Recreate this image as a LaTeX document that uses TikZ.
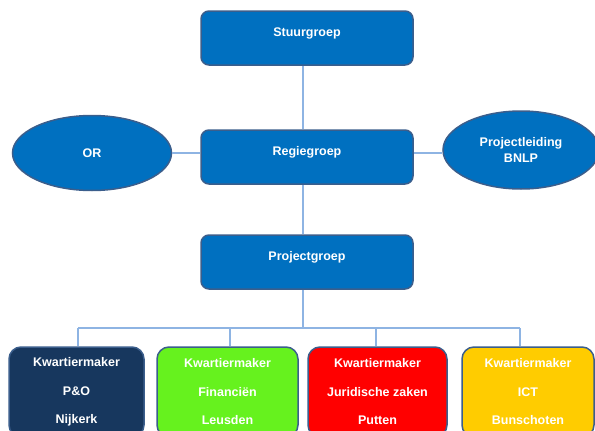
\documentclass[tikz,border=0pt]{standalone}
\usepackage{fontspec}
\setmainfont{Liberation Sans}
\usetikzlibrary{shapes.geometric}

\definecolor{boxBlue}{HTML}{0070C0}
\definecolor{boxBorder}{HTML}{3B5E8C}
\definecolor{lineBlue}{HTML}{8EB4E3}
\definecolor{navyFill}{HTML}{17375E}
\definecolor{greenFill}{HTML}{66F21E}
\definecolor{redFill}{HTML}{FF0000}
\definecolor{yellowFill}{HTML}{FFCC00}

\begin{document}
\begin{tikzpicture}
[x=1pt,y=-1pt,
  boxDecorate/.style={shape=rectangle,rounded corners=8pt,draw=boxBorder,line width=1.5pt,%
    fill=boxBlue,text=white,font=\bfseries\fontsize{12.5}{15}\selectfont,%
    minimum width=212pt,minimum height=54pt,text height=9pt,text depth=12pt},%
  ovalDecorate/.style={shape=ellipse,draw=boxBorder,line width=1.5pt,fill=boxBlue,%
    text=white,font=\bfseries\fontsize{12.5}{16.5}\selectfont,align=center,inner sep=0pt},%
  kwartDecorate/.style={shape=rectangle,rounded corners=12pt,draw=boxBorder,line width=1.5pt,%
    text=white,font=\bfseries\fontsize{12.5}{28.5}\selectfont,align=center,minimum height=90pt},%
  lineDecorate/.style={-,draw=lineBlue,line width=1.2pt}]
\useasboundingbox (0,0) rectangle (595,431);
%% top boxes
\foreach \nodename/\y/\txt in {stuur/38/Stuurgroep, regie/157/Regiegroep, project/262/Projectgroep} {
  \node (\nodename) at (307,\y) [boxDecorate] {\txt};
}
%% ovals
\node (or) at (92,153) [ovalDecorate,minimum width=159pt,minimum height=75pt] {OR};
\node (bnlp) at (521,150) [ovalDecorate,minimum width=156pt,minimum height=78pt] {Projectleiding\\BNLP};
%% kwartiermakers
\foreach \nodename/\x/\w/\col/\second/\third in {%
  kwpo/76.5/135/navyFill/{P\&O}/Nijkerk,
  kwfin/227.5/141/greenFill/{Financiën}/Leusden,
  kwjur/377.5/139/redFill/{Juridische zaken}/Putten,
  kwict/528/132/yellowFill/ICT/Bunschoten} {
  \node (\nodename) at (\x,392) [kwartDecorate,fill=\col,minimum width=\w pt] {Kwartiermaker\\\second\\\third};
}
%% lines
\coordinate (spine) at (303,0);
\coordinate (bus) at (0,328);
\draw[lineDecorate] (stuur.south -| spine) -- (regie.north -| spine);
\draw[lineDecorate] (regie.south -| spine) -- (project.north -| spine);
\draw[lineDecorate] (project.south -| spine) -- (bus -| spine);
\draw[lineDecorate] (or.east) -- (or.east -| regie.west);
\draw[lineDecorate] (regie.east |- or.east) -- (or.east -| bnlp.west);
\foreach \endnode/\x in {kwpo/78, kwfin/230, kwjur/376, kwict/520} {
  \coordinate (drop-\endnode) at (\x,0);
  \draw[lineDecorate] (bus -| drop-\endnode) -- (\endnode.north -| drop-\endnode);
}
\draw[lineDecorate] (bus -| drop-kwpo) -- (bus -| drop-kwict);
\end{tikzpicture}
\end{document}
